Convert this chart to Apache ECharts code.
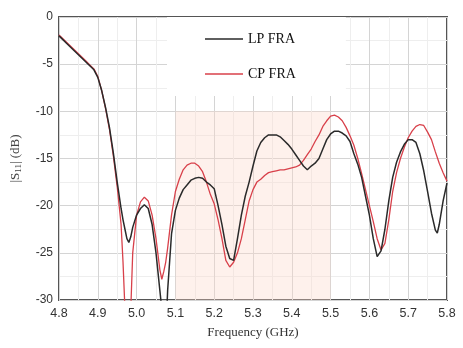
<!DOCTYPE html>
<html><head><meta charset="utf-8">
<script src="https://cdn.jsdelivr.net/npm/echarts@6/dist/echarts.min.js"></script>
<style>html,body{margin:0;padding:0;background:#fff}#c{width:463px;height:348px}</style>
</head><body><div id="c"></div>
<script>
var freq = [4.80,4.81,4.82,4.83,4.84,4.85,4.86,4.87,4.88,4.89,4.90,4.91,4.92,4.93,4.94,4.95,4.96,4.965,4.97,4.975,4.98,4.985,4.99,
5.00,5.01,5.02,5.03,5.04,5.05,5.06,5.065,5.07,5.075,5.08,5.09,
5.10,5.11,5.12,5.13,5.14,5.15,5.16,5.17,5.18,5.19,
5.20,5.21,5.22,5.23,5.24,5.25,5.26,5.27,5.28,5.29,
5.30,5.31,5.32,5.33,5.34,5.35,5.36,5.37,5.38,5.39,
5.40,5.41,5.42,5.43,5.44,5.45,5.46,5.47,5.48,5.49,
5.50,5.51,5.52,5.53,5.54,5.55,5.56,5.57,5.58,5.59,
5.60,5.61,5.62,5.63,5.64,5.65,5.66,5.67,5.68,5.69,
5.70,5.71,5.72,5.73,5.74,5.75,5.76,5.77,5.775,5.78,5.79,5.80];
var lpFRA = [-2.0,-2.4,-2.8,-3.2,-3.6,-4.0,-4.4,-4.8,-5.2,-5.6,-6.4,-7.8,-9.6,-11.7,-14.4,-17.5,-20.3,-21.5,-22.5,-23.5,-23.9,-23.3,-22.3,
-21.0,-20.3,-19.9,-20.3,-22.0,-25.0,-29.0,-31,-33,-34,-29,-23,
-20.5,-19.2,-18.3,-17.8,-17.3,-17.1,-17.0,-17.1,-17.5,-17.8,
-18.2,-20.0,-22.0,-24.3,-25.6,-25.8,-23.5,-21.0,-19.0,-17.5,
-15.8,-14.2,-13.3,-12.8,-12.5,-12.5,-12.5,-12.7,-13.1,-13.5,
-14.0,-14.6,-15.2,-15.8,-16.2,-15.8,-15.5,-15.0,-14.0,-13.0,
-12.4,-12.1,-12.1,-12.3,-12.6,-13.2,-14.5,-15.6,-17.0,-19.0,
-21.0,-23.5,-25.4,-24.8,-22.5,-19.5,-17.0,-15.4,-14.3,-13.5,
-13.0,-13.0,-13.3,-14.5,-16.3,-18.5,-20.8,-22.6,-22.9,-22.0,-19.5,-17.6];
var cpFRA = [-1.9,-2.3,-2.7,-3.1,-3.5,-3.9,-4.3,-4.7,-5.1,-5.5,-6.3,-7.8,-9.7,-11.9,-14.7,-18.0,-22.0,-26,-31,-40,-38,-31,-25,
-21.0,-19.6,-19.1,-19.5,-21.0,-23.5,-26.8,-27.8,-27.0,-26.0,-24.5,-21,
-18.5,-17.2,-16.2,-15.7,-15.5,-15.5,-15.8,-16.4,-17.5,-18.8,
-19.8,-21.5,-23.5,-25.8,-26.5,-26.0,-25.0,-23.5,-21.5,-19.5,
-18.3,-17.5,-17.2,-16.8,-16.5,-16.4,-16.3,-16.2,-16.2,-16.1,
-16.0,-15.9,-15.7,-15.2,-14.6,-14.0,-13.2,-12.5,-11.6,-11.0,
-10.5,-10.4,-10.6,-11.0,-11.7,-12.6,-13.6,-15.0,-16.6,-18.3,
-20.0,-21.7,-23.5,-24.7,-24.0,-21.5,-18.5,-16.5,-15.0,-13.8,
-12.8,-12.1,-11.6,-11.4,-11.5,-12.2,-13.0,-14.3,-14.9,-15.5,-16.5,-17.4];
var shadeBand = [[5.1, -10], [5.5, -30]];
var seriesNames = ['LP FRA', 'CP FRA'];

function pairs(xs, ys){ return xs.map(function(x,i){ return [x, ys[i]]; }); }

var chart = echarts.init(document.getElementById('c'));
chart.setOption({
  animation: false,
  backgroundColor: '#fff',
  grid: { left: 59, right: 16, top: 17, bottom: 48, show: true, borderColor: '#555', borderWidth: 2, backgroundColor: 'transparent' },
  legend: {
    data: seriesNames, orient: 'vertical', left: 167, top: 17,
    padding: [15, 50, 15, 38], itemGap: 21, itemWidth: 38, itemHeight: 1.6,
    icon: 'rect', backgroundColor: '#fff',
    textStyle: { fontFamily: 'Liberation Serif', fontSize: 14, color: '#111' }
  },
  xAxis: {
    type: 'value', min: 4.8, max: 5.8, interval: 0.1,
    name: 'Frequency (GHz)', nameLocation: 'middle', nameGap: 26,
    nameTextStyle: { fontFamily: 'Liberation Serif', fontSize: 13, color: '#333' },
    axisLine: { show: false }, axisTick: { show: false },
    axisLabel: { fontFamily: 'Liberation Sans', fontSize: 12.5, color: '#333', margin: 7,
      formatter: function(v){ return v.toFixed(1); } },
    splitLine: { show: true, lineStyle: { color: '#d4d4d4', width: 1 } },
    minorTick: { show: false, splitNumber: 2 },
    minorSplitLine: { show: true, lineStyle: { color: '#eeeeee', width: 1 } }
  },
  yAxis: {
    type: 'value', min: -30, max: 0, interval: 5,
    name: '{a||S}{s|11}{a|| (dB)}', nameLocation: 'middle', nameGap: 36,
    nameTextStyle: { fontFamily: 'Liberation Serif', fontSize: 13, color: '#444',
      rich: { a: { fontFamily: 'Liberation Serif', fontSize: 13, color: '#444' },
              s: { fontFamily: 'Liberation Serif', fontSize: 9, color: '#444', verticalAlign: 'bottom', padding: [6,0,0,0] } } },
    axisLine: { show: false }, axisTick: { show: false },
    axisLabel: { fontFamily: 'Liberation Sans', fontSize: 12, color: '#333', margin: 6 },
    splitLine: { show: true, lineStyle: { color: '#d4d4d4', width: 1 } },
    minorTick: { show: false, splitNumber: 2 },
    minorSplitLine: { show: true, lineStyle: { color: '#eeeeee', width: 1 } }
  },
  series: [
    { name: seriesNames[0], type: 'line', data: pairs(freq, lpFRA), showSymbol: false, symbol: 'none',
      lineStyle: { color: '#2a2a2a', width: 1.5 }, itemStyle: { color: '#2a2a2a' }, z: 3,
      markArea: { silent: true, itemStyle: { color: 'rgba(252,215,200,0.35)' },
        data: [[{ coord: shadeBand[0] }, { coord: shadeBand[1] }]] } },
    { name: seriesNames[1], type: 'line', data: pairs(freq, cpFRA), showSymbol: false, symbol: 'none',
      lineStyle: { color: '#d8404a', width: 1.3 }, itemStyle: { color: '#d8404a' }, z: 2 }
  ]
});
</script>
</body></html>
